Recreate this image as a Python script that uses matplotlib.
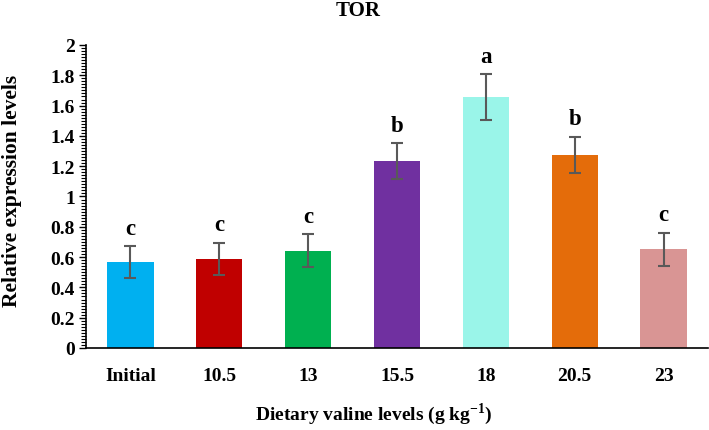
from matplotlib import pyplot as plt
from matplotlib.ticker import MultipleLocator
import numpy as np

categories = ['Initial', '10.5', '13', '15.5', '18', '20.5', '23']
values = [0.566, 0.587, 0.642, 1.232, 1.657, 1.274, 0.651]
errors = [0.106, 0.107, 0.108, 0.119, 0.150, 0.119, 0.111]
letters = ['c', 'c', 'c', 'b', 'a', 'b', 'c']
colors = ['#00B0F0', '#C00000', '#00B050', '#7030A0', '#9AF5E9', '#E46C0A', '#D99594']

plt.rcParams['font.family'] = ['Liberation Serif', 'DejaVu Serif']
plt.rcParams['font.weight'] = 'bold'
plt.rcParams['mathtext.fontset'] = 'custom'
plt.rcParams['mathtext.rm'] = 'Liberation Serif:bold'
plt.rcParams['mathtext.bf'] = 'Liberation Serif:bold'

fig = plt.figure(figsize=(7.09, 4.31), dpi=100)
ax = fig.add_axes([0.1213, 0.1903, 0.8773, 0.703])

x = np.arange(len(categories))
ax.bar(x, values, width=0.52, color=colors, zorder=2)
ax.errorbar(x, values, yerr=errors, fmt='none', ecolor='#595959',
            elinewidth=1.5, capsize=4, capthick=1.5, zorder=3)

# significance letters above the error bars
for xi, v, e, l in zip(x, values, errors, letters):
    ax.annotate(l, (xi, v + e), xytext=(0, 9), textcoords='offset points',
                ha='center', va='baseline', fontsize=16.5, fontweight='bold')

ax.set_xlim(-0.5, len(categories) - 0.5)
ax.set_ylim(0, 2)
ax.yaxis.set_minor_locator(MultipleLocator(0.02))
ax.set_yticks(np.arange(0, 2.01, 0.2))
ax.set_yticklabels(['0', '0.2', '0.4', '0.6', '0.8', '1', '1.2', '1.4', '1.6', '1.8', '2'])
ax.set_xticks(x)
ax.set_xticklabels(categories)
ax.tick_params(axis='y', which='major', length=5, width=1, labelsize=14, pad=3)
ax.tick_params(axis='y', which='minor', length=3.5, width=0.8)
ax.tick_params(axis='x', length=0, labelsize=14, pad=14)
for lab in ax.get_xticklabels() + ax.get_yticklabels():
    lab.set_fontweight('bold')

ax.spines['top'].set_visible(False)
ax.spines['right'].set_visible(False)
ax.spines['left'].set_linewidth(1.2)
ax.spines['bottom'].set_linewidth(1.2)

fig.text(358 / 709, 1 - 11 / 431, 'TOR', ha='center', va='center', fontsize=15, fontweight='bold')
fig.text(12 / 709, 1 - 191 / 431, 'Relative expression levels', rotation=90, ha='center',
         va='center', fontsize=15.5, fontweight='bold')
fig.text(374 / 709, 1 - 420 / 431, 'Dietary valine levels (g kg$^{-1}$)', ha='center',
         va='baseline', fontsize=14, fontweight='bold')

fig.savefig('out.png', dpi=100)
